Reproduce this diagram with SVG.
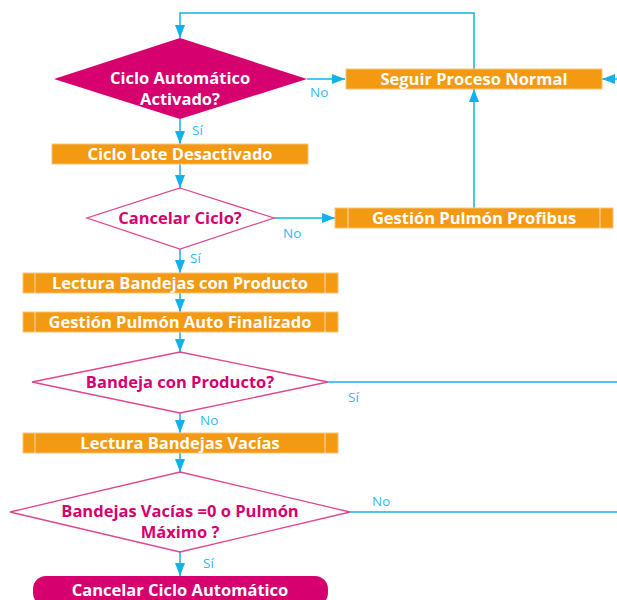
<svg xmlns="http://www.w3.org/2000/svg" width="617" height="600" viewBox="0 0 617 600">
  <defs>
    <marker id="arrow" markerUnits="userSpaceOnUse" markerWidth="14" markerHeight="10" refX="13" refY="5" orient="auto">
      <path d="M0,0 L13,5 L0,10 z" fill="#12b1ec"/>
    </marker>
    <style>
      .proc { fill: #f39a12; stroke: #f7c37c; stroke-width: 1; }
      .bar { stroke: #f9d39c; stroke-width: 1.2; }
      .dfill { fill: #d6006f; }
      .dline { fill: #ffffff; stroke: #e0468f; stroke-width: 1.3; }
      .term { fill: #d6006f; }
      .wt { font-family: "Open Sans", "Noto Sans", sans-serif; font-weight: 700; font-size: 16.5px; fill: #ffffff; text-anchor: middle; }
      .pt { font-family: "Open Sans", "Noto Sans", sans-serif; font-weight: 700; font-size: 16.5px; fill: #d6006f; text-anchor: middle; }
      .lbl { font-family: "Open Sans", "Noto Sans", sans-serif; font-size: 13.5px; fill: #33b8f0; }
      .conn { fill: none; stroke: #12b1ec; stroke-width: 1.5; }
    </style>
  </defs>
  <rect width="617" height="600" fill="#ffffff"/>

  <!-- connectors -->
  <g id="connectors">
    <path class="conn" d="M474,69 V13 H180 V38" marker-end="url(#arrow)"/>
    <path class="conn" d="M307,79 H345" marker-end="url(#arrow)"/>
    <path class="conn" d="M620,79 H602" marker-end="url(#arrow)"/>
    <path class="conn" d="M180,119 V144" marker-end="url(#arrow)"/>
    <path class="conn" d="M180,164 V188" marker-end="url(#arrow)"/>
    <path class="conn" d="M274,218 H335" marker-end="url(#arrow)"/>
    <path class="conn" d="M474,208 V89" marker-end="url(#arrow)"/>
    <path class="conn" d="M180,249 V273" marker-end="url(#arrow)"/>
    <path class="conn" d="M180,293 V312" marker-end="url(#arrow)"/>
    <path class="conn" d="M180,332 V352" marker-end="url(#arrow)"/>
    <path class="conn" d="M328,382 H617"/>
    <path class="conn" d="M180,413 V433" marker-end="url(#arrow)"/>
    <path class="conn" d="M180,453 V472" marker-end="url(#arrow)"/>
    <path class="conn" d="M350,512 H617"/>
    <path class="conn" d="M180,552 V576" marker-end="url(#arrow)"/>
    <text class="lbl" x="310" y="97">No</text>
    <text class="lbl" x="192" y="135">Sí</text>
    <text class="lbl" x="283" y="238">No</text>
    <text class="lbl" x="190" y="263">Sí</text>
    <text class="lbl" x="348" y="402">Sí</text>
    <text class="lbl" x="200" y="425">No</text>
    <text class="lbl" x="372" y="506">No</text>
    <text class="lbl" x="203" y="568">Sí</text>
  </g>

  <g id="ciclo-automatico">
    <polygon class="dfill" points="180,38 307,79 180,119 54,79"/>
    <text class="wt" x="180" y="84">Ciclo Automático</text>
    <text class="wt" x="180" y="105">Activado?</text>
  </g>

  <g id="seguir-proceso">
    <rect class="proc" x="346" y="69" width="256" height="20"/>
    <text class="wt" x="474" y="85">Seguir Proceso Normal</text>
  </g>

  <g id="ciclo-lote">
    <rect class="proc" x="52" y="144" width="256" height="20"/>
    <text class="wt" x="180" y="160">Ciclo Lote Desactivado</text>
  </g>

  <g id="cancelar-ciclo">
    <polygon class="dline" points="180,188 274,218 180,249 87,218"/>
    <text class="pt" x="180" y="224">Cancelar Ciclo?</text>
  </g>

  <g id="pulmon-profibus">
    <rect class="proc" x="335" y="208" width="278" height="20"/>
    <line class="bar" x1="348" y1="208" x2="348" y2="228"/>
    <line class="bar" x1="600" y1="208" x2="600" y2="228"/>
    <text class="wt" x="474" y="224">Gestión Pulmón Profibus</text>
  </g>

  <g id="lectura-producto">
    <rect class="proc" x="23" y="273" width="315" height="20"/>
    <line class="bar" x1="35" y1="273" x2="35" y2="293"/>
    <line class="bar" x1="325" y1="273" x2="325" y2="293"/>
    <text class="wt" x="180" y="289">Lectura Bandejas con Producto</text>
  </g>

  <g id="pulmon-auto">
    <rect class="proc" x="23" y="312" width="315" height="20"/>
    <line class="bar" x1="35" y1="312" x2="35" y2="332"/>
    <line class="bar" x1="325" y1="312" x2="325" y2="332"/>
    <text class="wt" x="180" y="328">Gestión Pulmón Auto Finalizado</text>
  </g>

  <g id="bandeja-producto">
    <polygon class="dline" points="180,352 328,382 180,413 32,382"/>
    <text class="pt" x="180" y="388">Bandeja con Producto?</text>
  </g>

  <g id="lectura-vacias">
    <rect class="proc" x="23" y="433" width="315" height="20"/>
    <line class="bar" x1="35" y1="433" x2="35" y2="453"/>
    <line class="bar" x1="325" y1="433" x2="325" y2="453"/>
    <text class="wt" x="180" y="449">Lectura Bandejas Vacías</text>
  </g>

  <g id="bandejas-vacias">
    <polygon class="dline" points="180,472 350,512 180,552 10,512"/>
    <text class="pt" x="180" y="517">Bandejas Vacías =0 o Pulmón</text>
    <text class="pt" x="180" y="538">Máximo ?</text>
  </g>

  <g id="cancelar-automatico">
    <rect class="term" x="33" y="576" width="295" height="30" rx="13"/>
    <text class="wt" x="180" y="596">Cancelar Ciclo Automático</text>
  </g>
</svg>
